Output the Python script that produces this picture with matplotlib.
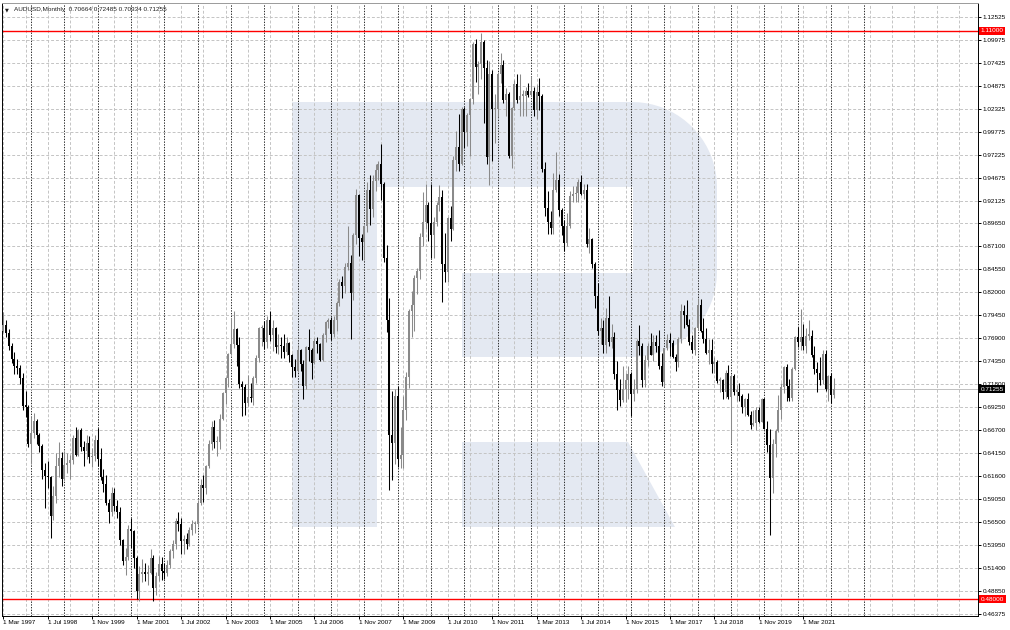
import numpy as np
import matplotlib
matplotlib.use("Agg")
import matplotlib.pyplot as plt
from matplotlib.patches import Polygon
from matplotlib.transforms import Affine2D, blended_transform_factory

plt.rcParams['font.family'] = ['Liberation Sans', 'DejaVu Sans']

# monthly AUDUSD bars, Mar 1997 .. Feb 2022 (open of each bar = previous close)
first_open = 0.7770
closes = [
    0.7840, 0.7751, 0.7602, 0.7460, 0.7380, 0.7360, 0.7245, 0.6945, 0.6931, 0.6521,  # 1997
    0.6640, 0.6770, 0.6620, 0.6500, 0.6230, 0.6160, 0.6150, 0.5720, 0.5940, 0.6280, 0.6360, 0.6130,  # 1998
    0.6290, 0.6310, 0.6340, 0.6580, 0.6400, 0.6670, 0.6480, 0.6440, 0.6530, 0.6370, 0.6380, 0.6560,  # 1999
    0.6350, 0.6150, 0.6070, 0.5860, 0.5760, 0.5980, 0.5830, 0.5770, 0.5450, 0.5220, 0.5270, 0.5580,  # 2000
    0.5550, 0.5250, 0.4890, 0.5080, 0.5090, 0.5080, 0.5090, 0.5260, 0.4920, 0.5060, 0.5190, 0.5110,  # 2001
    0.5090, 0.5180, 0.5330, 0.5410, 0.5660, 0.5630, 0.5440, 0.5460, 0.5410, 0.5560, 0.5630, 0.5630,  # 2002
    0.5870, 0.6060, 0.6030, 0.6270, 0.6520, 0.6710, 0.6540, 0.6540, 0.6800, 0.7080, 0.7250, 0.7520,  # 2003
    0.7630, 0.7790, 0.7620, 0.7180, 0.7150, 0.6970, 0.7040, 0.7030, 0.7250, 0.7470, 0.7800, 0.7810,  # 2004
    0.7650, 0.7890, 0.7730, 0.7800, 0.7590, 0.7620, 0.7600, 0.7540, 0.7640, 0.7510, 0.7370, 0.7330,  # 2005
    0.7560, 0.7400, 0.7160, 0.7590, 0.7560, 0.7420, 0.7660, 0.7630, 0.7450, 0.7730, 0.7870, 0.7890,  # 2006
    0.7740, 0.7890, 0.8080, 0.8310, 0.8270, 0.8480, 0.8520, 0.8190, 0.8840, 0.9280, 0.8800, 0.8760,  # 2007
    0.8930, 0.9330, 0.9120, 0.9430, 0.9560, 0.9620, 0.9400, 0.8580, 0.7890, 0.6620, 0.6530, 0.7050,  # 2008
    0.6350, 0.6400, 0.6900, 0.7260, 0.7990, 0.8060, 0.8360, 0.8440, 0.8810, 0.8980, 0.9170, 0.8970,  # 2009
    0.8840, 0.8980, 0.9170, 0.9260, 0.8510, 0.8420, 0.9020, 0.8900, 0.9670, 0.9810, 0.9620, 1.0230,  # 2010
    0.9980, 1.0170, 1.0340, 1.0950, 1.0700, 1.0730, 1.0980, 1.0690, 0.9700, 1.0620, 1.0230, 1.0230,  # 2011
    1.0620, 1.0720, 1.0330, 1.0400, 0.9710, 1.0240, 1.0510, 1.0330, 1.0380, 1.0380, 1.0430, 1.0390,  # 2012
    1.0430, 1.0220, 1.0420, 1.0380, 0.9570, 0.9130, 0.8980, 0.8910, 0.9330, 0.9450, 0.9110, 0.8930,  # 2013
    0.8750, 0.8930, 0.9270, 0.9290, 0.9300, 0.9420, 0.9290, 0.9340, 0.8740, 0.8790, 0.8510, 0.8160,  # 2014
    0.7770, 0.7810, 0.7620, 0.7910, 0.7650, 0.7710, 0.7300, 0.7120, 0.7010, 0.7130, 0.7230, 0.7290,  # 2015
    0.7070, 0.7130, 0.7660, 0.7600, 0.7230, 0.7450, 0.7600, 0.7510, 0.7650, 0.7600, 0.7380, 0.7210,  # 2016
    0.7580, 0.7670, 0.7640, 0.7480, 0.7430, 0.7680, 0.7990, 0.7950, 0.7840, 0.7650, 0.7560, 0.7800,  # 2017
    0.8060, 0.7770, 0.7680, 0.7530, 0.7560, 0.7400, 0.7430, 0.7220, 0.7230, 0.7090, 0.7310, 0.7040,  # 2018
    0.7270, 0.7100, 0.7100, 0.7050, 0.6930, 0.7020, 0.6840, 0.6730, 0.6750, 0.6890, 0.6760, 0.7020,  # 2019
    0.6690, 0.6510, 0.6140, 0.6520, 0.6660, 0.6900, 0.7150, 0.7370, 0.7160, 0.7030, 0.7350, 0.7700,  # 2020
    0.7650, 0.7700, 0.7600, 0.7720, 0.7720, 0.7500, 0.7350, 0.7310, 0.7230, 0.7520, 0.7130, 0.7270,  # 2021
    0.70664, 0.71255,  # 2022
]
highs = [
    0.7980, 0.7890, 0.7790, 0.7640, 0.7540, 0.7460, 0.7390, 0.7310, 0.7110, 0.6950,
    0.6820, 0.6860, 0.6800, 0.6640, 0.6520, 0.6310, 0.6330, 0.6160, 0.6050, 0.6420, 0.6540, 0.6430,
    0.6440, 0.6420, 0.6400, 0.6620, 0.6710, 0.6690, 0.6700, 0.6550, 0.6620, 0.6610, 0.6470, 0.6620,
    0.6700, 0.6470, 0.6240, 0.6170, 0.5910, 0.6040, 0.6030, 0.5900, 0.5820, 0.5460, 0.5370, 0.5620,
    0.5700, 0.5560, 0.5280, 0.5170, 0.5240, 0.5200, 0.5180, 0.5350, 0.5290, 0.5100, 0.5280, 0.5270,
    0.5200, 0.5230, 0.5350, 0.5450, 0.5700, 0.5770, 0.5700, 0.5510, 0.5530, 0.5600, 0.5680, 0.5670,
    0.5900, 0.6130, 0.6180, 0.6290, 0.6560, 0.6770, 0.6790, 0.6610, 0.6850, 0.7090, 0.7260, 0.7530,
    0.7910, 0.7990, 0.7800, 0.7700, 0.7220, 0.7180, 0.7280, 0.7190, 0.7270, 0.7500, 0.7820, 0.7840,
    0.7880, 0.7940, 0.7990, 0.7890, 0.7820, 0.7740, 0.7710, 0.7740, 0.7710, 0.7650, 0.7520, 0.7460,
    0.7600, 0.7570, 0.7450, 0.7610, 0.7790, 0.7580, 0.7690, 0.7700, 0.7640, 0.7750, 0.7880, 0.7920,
    0.7930, 0.7940, 0.8100, 0.8350, 0.8380, 0.8520, 0.8930, 0.8610, 0.8860, 0.9350, 0.9290, 0.8850,
    0.8950, 0.9420, 0.9500, 0.9500, 0.9620, 0.9660, 0.9850, 0.9420, 0.8730, 0.8140, 0.7110, 0.7130,
    0.7160, 0.6710, 0.7050, 0.7320, 0.8020, 0.8210, 0.8390, 0.8470, 0.8860, 0.9310, 0.9400, 0.9200,
    0.9400, 0.9030, 0.9200, 0.9390, 0.9330, 0.8860, 0.9030, 0.9160, 0.9710, 0.9990, 1.0180, 1.0260,
    1.0250, 1.0190, 1.0350, 1.0970, 1.1010, 1.0770, 1.1080, 1.1000, 1.0780, 1.0760, 1.0660, 1.0400,
    1.0640, 1.0856, 1.0780, 1.0460, 1.0420, 1.0260, 1.0550, 1.0620, 1.0620, 1.0440, 1.0480, 1.0520,
    1.0600, 1.0480, 1.0500, 1.0580, 1.0400, 0.9640, 0.9320, 0.9100, 0.9520, 0.9760, 0.9510, 0.9130,
    0.9000, 0.9080, 0.9320, 0.9380, 0.9380, 0.9460, 0.9500, 0.9400, 0.9400, 0.8910, 0.8800, 0.8540,
    0.8300, 0.7910, 0.7890, 0.8030, 0.8160, 0.7850, 0.7760, 0.7440, 0.7240, 0.7380, 0.7310, 0.7380,
    0.7320, 0.7240, 0.7680, 0.7840, 0.7640, 0.7500, 0.7640, 0.7750, 0.7730, 0.7730, 0.7780, 0.7530,
    0.7580, 0.7740, 0.7750, 0.7670, 0.7520, 0.7700, 0.8070, 0.8060, 0.8120, 0.7900, 0.7730, 0.7820,
    0.8140, 0.8130, 0.7920, 0.7810, 0.7680, 0.7680, 0.7480, 0.7450, 0.7260, 0.7240, 0.7340, 0.7390,
    0.7300, 0.7300, 0.7170, 0.7200, 0.7070, 0.7030, 0.7080, 0.6880, 0.6890, 0.6930, 0.6930, 0.7030,
    0.7030, 0.6770, 0.6690, 0.6570, 0.6680, 0.7060, 0.7200, 0.7380, 0.7410, 0.7240, 0.7370, 0.7720,
    0.7820, 0.8010, 0.7850, 0.7810, 0.7890, 0.7780, 0.7600, 0.7430, 0.7480, 0.7560, 0.7560, 0.7280,
    0.7310, 0.72485,
]
lows = [
    0.7760, 0.7700, 0.7560, 0.7420, 0.7300, 0.7290, 0.7180, 0.6890, 0.6820, 0.6480,
    0.6300, 0.6580, 0.6520, 0.6430, 0.6130, 0.5810, 0.6030, 0.5480, 0.5680, 0.5870, 0.6150, 0.6050,
    0.6120, 0.6200, 0.6130, 0.6300, 0.6390, 0.6380, 0.6440, 0.6270, 0.6350, 0.6310, 0.6260, 0.6330,
    0.6280, 0.6120, 0.5990, 0.5840, 0.5640, 0.5720, 0.5780, 0.5700, 0.5400, 0.5180, 0.5070, 0.5230,
    0.5370, 0.5140, 0.4800, 0.4780, 0.4990, 0.5000, 0.4960, 0.5080, 0.4780, 0.4840, 0.5000, 0.5010,
    0.5020, 0.5060, 0.5140, 0.5250, 0.5360, 0.5550, 0.5300, 0.5300, 0.5360, 0.5390, 0.5510, 0.5530,
    0.5600, 0.5840, 0.5880, 0.5960, 0.6250, 0.6450, 0.6470, 0.6390, 0.6460, 0.6780, 0.6960, 0.7150,
    0.7500, 0.7580, 0.7380, 0.7140, 0.6830, 0.6840, 0.6940, 0.6980, 0.6950, 0.7200, 0.7430, 0.7600,
    0.7570, 0.7580, 0.7660, 0.7550, 0.7530, 0.7520, 0.7470, 0.7470, 0.7510, 0.7430, 0.7260, 0.7260,
    0.7320, 0.7330, 0.7020, 0.7130, 0.7440, 0.7240, 0.7400, 0.7530, 0.7440, 0.7440, 0.7650, 0.7800,
    0.7670, 0.7710, 0.7770, 0.8050, 0.8140, 0.8190, 0.8450, 0.7680, 0.8120, 0.8740, 0.8600, 0.8560,
    0.8560, 0.8870, 0.8950, 0.9030, 0.9320, 0.9450, 0.9220, 0.8540, 0.7760, 0.6010, 0.6120, 0.6300,
    0.6260, 0.6250, 0.6250, 0.6780, 0.7140, 0.7700, 0.7770, 0.8180, 0.8350, 0.8710, 0.8900, 0.8770,
    0.8580, 0.8580, 0.8930, 0.9100, 0.8090, 0.8320, 0.8320, 0.8770, 0.8890, 0.9540, 0.9550, 0.9610,
    0.9800, 0.9820, 0.9710, 1.0290, 1.0530, 1.0400, 1.0560, 1.0080, 0.9620, 0.9390, 0.9660, 0.9860,
    1.0140, 1.0520, 1.0300, 1.0160, 0.9690, 0.9580, 1.0220, 1.0300, 1.0150, 1.0150, 1.0150, 1.0370,
    1.0380, 1.0150, 1.0120, 1.0220, 0.9530, 0.9050, 0.8850, 0.8850, 0.8850, 0.9310, 0.9050, 0.8840,
    0.8660, 0.8710, 0.8910, 0.9200, 0.9200, 0.9200, 0.9280, 0.9230, 0.8700, 0.8640, 0.8470, 0.8030,
    0.7730, 0.7630, 0.7530, 0.7530, 0.7600, 0.7580, 0.7240, 0.6900, 0.6940, 0.6980, 0.6980, 0.7020,
    0.6830, 0.7000, 0.7080, 0.7510, 0.7150, 0.7150, 0.7380, 0.7500, 0.7440, 0.7540, 0.7350, 0.7160,
    0.7160, 0.7560, 0.7490, 0.7470, 0.7330, 0.7370, 0.7640, 0.7810, 0.7830, 0.7620, 0.7530, 0.7500,
    0.7780, 0.7760, 0.7640, 0.7520, 0.7410, 0.7310, 0.7310, 0.7200, 0.7090, 0.7020, 0.7030, 0.7020,
    0.6530, 0.7060, 0.7000, 0.7000, 0.6860, 0.6830, 0.6830, 0.6680, 0.6720, 0.6670, 0.6750, 0.6760,
    0.6680, 0.6430, 0.5510, 0.5980, 0.6370, 0.6650, 0.6800, 0.7080, 0.7000, 0.6990, 0.7000, 0.7340,
    0.7590, 0.7560, 0.7560, 0.7530, 0.7670, 0.7480, 0.7290, 0.7100, 0.7170, 0.7180, 0.7110, 0.7000,
    0.6970, 0.70334,
]

x_labels = ['1 Mar 1997', '1 Jul 1998', '1 Nov 1999', '1 Mar 2001', '1 Jul 2002', '1 Nov 2003',
            '1 Mar 2005', '1 Jul 2006', '1 Nov 2007', '1 Mar 2009', '1 Jul 2010', '1 Nov 2011',
            '1 Mar 2013', '1 Jul 2014', '1 Nov 2015', '1 Mar 2017', '1 Jul 2018', '1 Nov 2019',
            '1 Mar 2021']
y_ticks = [1.12525, 1.09975, 1.07425, 1.04875, 1.02325, 0.99775, 0.97225, 0.94675, 0.92125,
           0.89650, 0.87100, 0.84550, 0.82000, 0.79450, 0.76900, 0.74350, 0.71800, 0.69250,
           0.66700, 0.64150, 0.61600, 0.59050, 0.56500, 0.53950, 0.51400, 0.48850, 0.46375]
levels = [1.11, 0.48]
bid = 0.71255
header = 'AUDUSD,Monthly  0.70664 0.72485 0.70334 0.71255'

W, H = 1010, 630
fig = plt.figure(figsize=(W / 100, H / 100), dpi=100)
fig.patch.set_facecolor('white')
ax = fig.add_axes([2 / W, 14 / H, 976 / W, 613 / H])
ax.set_xlim(-0.47, 350.9)
ax.set_ylim(0.46117, 1.14077)

# pixel transform (origin top-left) for the watermark
pix = Affine2D().scale(1 / W, -1 / H).translate(0, 1) + fig.transFigure
wm = '#e4e9f2'


def arc(cx, cy, r, a0, a1, n=20):
    t = np.radians(np.linspace(a0, a1, n))
    return list(zip(cx + r * np.cos(t), cy - r * np.sin(t)))


stem = [(292, 102), (377, 102), (377, 527), (292, 527)]
bowl = ([(377, 102), (632, 102)] + arc(632, 187, 85, 90, 0) + arc(632, 272, 85, 0, -90)
        + [(462, 357), (462, 273), (633, 273), (633, 187), (377, 187)])
leg = [(462, 442), (628, 442), (675, 527), (462, 527)]
for shape in (stem, bowl, leg):
    ax.add_patch(Polygon(shape, closed=True, transform=pix, fc=wm, ec='none', zorder=0))

# grid: gray every 8 bars, dark period separators each January
for v in y_ticks:
    ax.axhline(v, color='#c4c4c4', lw=0.7, ls=(0, (3, 2)), zorder=1)
for i in range(0, 351, 8):
    ax.axvline(i, color='#c4c4c4', lw=0.7, ls=(0, (3, 2)), zorder=1)
for i in range(10, 312, 12):
    ax.axvline(i, color='#2a2a2a', lw=0.7, ls=(0, (1.4, 1.4)), zorder=1.2)

for lv in levels:
    ax.axhline(lv, color='#ff0000', lw=1.0, zorder=2.5)
ax.axhline(bid, color='#c0c0c0', lw=0.7, zorder=2)

# candles
c = np.array(closes)
o = np.array([first_open] + closes[:-1])
hi = np.array(highs)
lo = np.array(lows)
idx = np.arange(len(c))
up = c >= o
bull, bear = '#8a8a8a', '#000000'
ax.vlines(idx[up], lo[up], hi[up], color=bull, lw=0.75, zorder=3)
ax.vlines(idx[~up], lo[~up], hi[~up], color=bear, lw=0.75, zorder=3)
body = np.maximum(np.abs(c - o), 0.0015)
ax.bar(idx, body, bottom=np.minimum(o, c), width=0.72,
       color=np.where(up, bull, bear), linewidth=0, zorder=4)

# axes and ticks
for s in ax.spines.values():
    s.set_color('#000000')
    s.set_linewidth(0.7)
ax.spines['top'].set_color('#9a9a9a')
ax.yaxis.tick_right()
ax.set_yticks(y_ticks)
ax.set_yticklabels([f'{v:.5f}' for v in y_ticks])
ax.tick_params(axis='y', length=2, width=0.7, pad=1.2, labelsize=4.6, colors='black')
ax.set_xticks(range(0, 16 * len(x_labels), 16))
ax.set_xticklabels(x_labels)
ax.tick_params(axis='x', length=2, width=0.7, pad=0.8, labelsize=4.6, colors='black')
for lab in ax.get_xticklabels():
    lab.set_horizontalalignment('left')

# price boxes on the right scale
tr = blended_transform_factory(ax.transAxes, ax.transData)
for lv in levels:
    ax.text(1 + 2.6 / 976, lv, f'{lv:.5f}', transform=tr, ha='left', va='center',
            fontsize=4.6, color='white', clip_on=False, zorder=10,
            bbox=dict(boxstyle='square,pad=0.25', fc='#ff0000', ec='none'))
ax.text(1 + 2.6 / 976, bid, f'{bid:.5f}', transform=tr, ha='left', va='center',
        fontsize=4.6, color='white', clip_on=False, zorder=10,
        bbox=dict(boxstyle='square,pad=0.25', fc='#000000', ec='none'))

# header
fig.text(5 / W, 1 - 10 / H, '\u25bc', family='DejaVu Sans', fontsize=3.6, va='center', color='#202020')
fig.text(14 / W, 1 - 10 / H, header, fontsize=4.6, va='center', color='#202020')

fig.savefig('out.png', dpi=100)
